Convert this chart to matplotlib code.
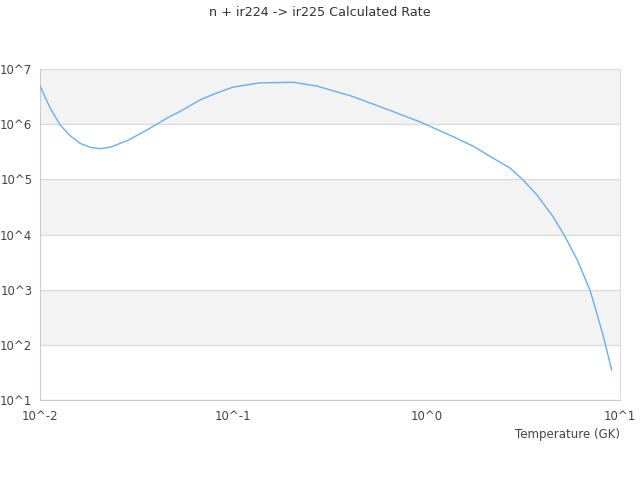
import matplotlib
matplotlib.use("Agg")
import matplotlib.pyplot as plt
import numpy as np

temperature = [0.01, 0.0113, 0.0127, 0.0143, 0.0161, 0.0182, 0.0204, 0.023, 0.0285,
               0.0357, 0.0454, 0.053, 0.0673, 0.0824, 0.0996, 0.137, 0.204, 0.271,
               0.416, 0.624, 0.925, 1.32, 1.74, 2.13, 2.70, 3.15, 3.72, 4.51, 5.20,
               6.0, 7.0, 8.17, 9.06]
rate = [4.9e6, 1.95e6, 9.7e5, 6.2e5, 4.5e5, 3.8e5, 3.6e5, 3.8e5, 5.1e5,
        7.8e5, 1.29e6, 1.7e6, 2.75e6, 3.7e6, 4.7e6, 5.6e6, 5.75e6, 4.9e6,
        3.16e6, 1.86e6, 1.1e6, 6.3e5, 4.0e5, 2.6e5, 1.6e5, 9.8e4, 5.2e4, 2.1e4, 9.1e3,
        3.5e3, 980, 150, 35]
x_ticks = [0.01, 0.1, 1, 10]
x_tick_labels = ["10^-2", "10^-1", "10^0", "10^1"]
y_exps = [1, 2, 3, 4, 5, 6, 7]
y_tick_labels = ["10^%d" % e for e in y_exps]

fig = plt.figure(figsize=(6.4, 4.8), dpi=100)
ax = fig.add_axes([40/640, 80/480, 580/640, 331/480])
ax.set_xscale("log")
ax.set_yscale("log")
ax.set_xlim(0.01, 10)
ax.set_ylim(10, 1e7)

for e in y_exps[:-1]:
    if e % 2 == 0:
        ax.axhspan(10**e, 10**(e+1), color="#f3f3f3", zorder=0, lw=0)
for e in y_exps:
    ax.axhline(10**e, color="#dddddd", lw=1, zorder=1)

ax.plot(temperature, rate, color="#6aaeee", lw=1, zorder=3)

ax.set_xticks(x_ticks)
ax.set_xticklabels(x_tick_labels)
ax.set_yticks([10**e for e in y_exps])
ax.set_yticklabels(y_tick_labels)
ax.minorticks_off()
ax.tick_params(length=0, labelsize=8.5, colors="#444444")
ax.tick_params(axis="x", pad=7)
ax.tick_params(axis="y", pad=5.5)
for s in ax.spines.values():
    s.set_color("#cccccc")
ax.spines["top"].set_visible(False)
ax.spines["right"].set_color("#dddddd")

ax.set_xlabel("Temperature (GK)", fontsize=8.5, color="#444444", loc="right", labelpad=4)
fig.text(0.5, 1 - 12.5/480, "n + ir224 -> ir225 Calculated Rate", ha="center", va="center",
         fontsize=9.2, color="#333333")

fig.savefig("out.png", dpi=100)
